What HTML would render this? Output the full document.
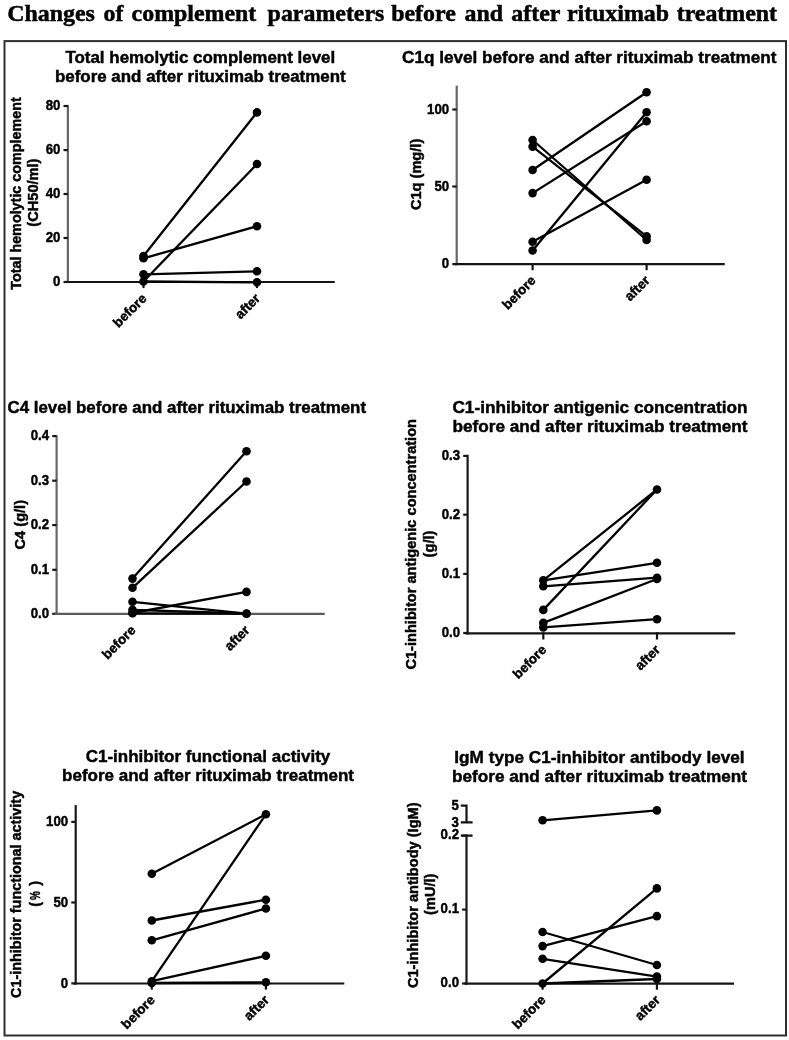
<!DOCTYPE html>
<html><head><meta charset="utf-8"><title>Changes of complement parameters</title><style>
html,body{margin:0;padding:0;background:#fff;}
svg{display:block;will-change:transform;}
text{font-family:"Liberation Sans",sans-serif;font-weight:bold;fill:#000;stroke:#000;stroke-width:0.45px;}
.mt{font-family:"Liberation Serif",serif;font-size:23.9px;stroke:#000;stroke-width:0.5px;}
.t{font-size:16.9px;}
.k{font-size:14.4px;}
.xk{font-size:13.4px;}
.yl{font-size:14.6px;}
.ax{stroke:#111;stroke-width:2.2;fill:none;stroke-linecap:square;}
.dl{stroke:#000;stroke-width:2.3;fill:none;}
circle{fill:#000;}
</style></head>
<body><svg width="789" height="1040" viewBox="0 0 789 1040">
<rect x="0" y="0" width="789" height="1040" fill="#fff"/>
<text y="20.8" class="mt"><tspan x="7.2">Changes</tspan><tspan x="103.5">of</tspan><tspan x="131.6">complement</tspan><tspan x="267.6">parameters</tspan><tspan x="391.2">before</tspan><tspan x="464.6">and</tspan><tspan x="511.3">after</tspan><tspan x="566.9">rituximab</tspan><tspan x="676.7">treatment</tspan></text>
<rect x="4.5" y="41.1" width="781.5" height="994.4" fill="none" stroke="#2e2e2e" stroke-width="2"/>
<g><text x="200.3" y="62.7" text-anchor="middle" class="t" style="font-size:16.95px">Total hemolytic complement level</text><text x="200.3" y="82" text-anchor="middle" class="t" style="font-size:16.95px">before and after rituximab treatment</text><path d="M67.9 106V282" class="ax" stroke="#666" style="stroke:#666"/><path d="M63.5 106H67.9" class="ax" style="stroke:#181818;stroke-linecap:butt"/><text x="0" y="0" text-anchor="end" transform="translate(60.4 109.7) scale(0.92 1)" class="k">80</text><path d="M63.5 150.1H67.9" class="ax" style="stroke:#181818;stroke-linecap:butt"/><text x="0" y="0" text-anchor="end" transform="translate(60.4 153.8) scale(0.92 1)" class="k">60</text><path d="M63.5 194H67.9" class="ax" style="stroke:#181818;stroke-linecap:butt"/><text x="0" y="0" text-anchor="end" transform="translate(60.4 197.7) scale(0.92 1)" class="k">40</text><path d="M63.5 238H67.9" class="ax" style="stroke:#181818;stroke-linecap:butt"/><text x="0" y="0" text-anchor="end" transform="translate(60.4 241.7) scale(0.92 1)" class="k">20</text><path d="M63.5 282H67.9" class="ax" style="stroke:#181818;stroke-linecap:butt"/><text x="0" y="0" text-anchor="end" transform="translate(60.4 285.7) scale(0.92 1)" class="k">0</text><path d="M66.9 282H333.6" class="ax" style="stroke:#141414"/><path d="M143.5 282V287" class="ax" style="stroke:#141414"/><text x="147.5" y="299.2" text-anchor="end" transform="rotate(-45 147.5 299.2)" class="xk">before</text><path d="M257 282V287" class="ax" style="stroke:#141414"/><text x="261" y="299.2" text-anchor="end" transform="rotate(-45 261 299.2)" class="xk">after</text><text x="20.8" y="193.5" text-anchor="middle" transform="rotate(-90 20.8 193.5)" class="yl" style="font-size:14.35px">Total hemolytic complement</text><text x="38.2" y="192.6" text-anchor="middle" transform="rotate(-90 38.2 192.6)" class="yl" style="font-size:14.6px">(CH50/ml)</text><path d="M143.5 256L257 112.4" class="dl"/><path d="M143.5 258.3L257 226.2" class="dl"/><path d="M143.5 281.5L257 164" class="dl"/><path d="M143.5 274.3L257 271.3" class="dl"/><path d="M143.5 281.5L257 282.3" class="dl"/><circle cx="143.5" cy="256" r="4.3"/><circle cx="143.5" cy="281.5" r="4.3"/><circle cx="143.5" cy="258.3" r="4.3"/><circle cx="143.5" cy="274.3" r="4.3"/><circle cx="257" cy="226.2" r="4.3"/><circle cx="257" cy="164" r="4.3"/><circle cx="257" cy="271.3" r="4.3"/><circle cx="257" cy="112.4" r="4.3"/><circle cx="257" cy="282.3" r="4.3"/></g>
<g><text x="589.2" y="62.8" text-anchor="middle" class="t" style="font-size:17.15px">C1q level before and after rituximab treatment</text><path d="M456.7 86.7V264.1" class="ax" stroke="#666" style="stroke:#666"/><path d="M452.3 109.5H456.7" class="ax" style="stroke:#181818;stroke-linecap:butt"/><text x="0" y="0" text-anchor="end" transform="translate(449.2 113.5) scale(0.92 1)" class="k">100</text><path d="M452.3 186.5H456.7" class="ax" style="stroke:#181818;stroke-linecap:butt"/><text x="0" y="0" text-anchor="end" transform="translate(449.2 190.5) scale(0.92 1)" class="k">50</text><path d="M452.3 264.1H456.7" class="ax" style="stroke:#181818;stroke-linecap:butt"/><text x="0" y="0" text-anchor="end" transform="translate(449.2 268.1) scale(0.92 1)" class="k">0</text><path d="M455.7 264.1H723.6" class="ax" style="stroke:#141414"/><path d="M532.6 264.1V269.1" class="ax" style="stroke:#141414"/><text x="536.6" y="281.3" text-anchor="end" transform="rotate(-45 536.6 281.3)" class="xk">before</text><path d="M646.6 264.1V269.1" class="ax" style="stroke:#141414"/><text x="650.6" y="281.3" text-anchor="end" transform="rotate(-45 650.6 281.3)" class="xk">after</text><text x="421.5" y="174.4" text-anchor="middle" transform="rotate(-90 421.5 174.4)" class="yl" style="font-size:14.6px">C1q (mg/l)</text><path d="M532.6 170L646.6 92.2" class="dl"/><path d="M532.6 193.1L646.6 121.3" class="dl"/><path d="M532.6 250.5L646.6 112.3" class="dl"/><path d="M532.6 241.8L646.6 179.8" class="dl"/><path d="M532.6 140L646.6 240" class="dl"/><path d="M532.6 146.6L646.6 236.4" class="dl"/><circle cx="532.6" cy="193.1" r="4.3"/><circle cx="532.6" cy="170" r="4.3"/><circle cx="532.6" cy="140" r="4.3"/><circle cx="532.6" cy="241.8" r="4.3"/><circle cx="532.6" cy="146.6" r="4.3"/><circle cx="532.6" cy="250.5" r="4.3"/><circle cx="646.6" cy="236.4" r="4.3"/><circle cx="646.6" cy="112.3" r="4.3"/><circle cx="646.6" cy="240" r="4.3"/><circle cx="646.6" cy="179.8" r="4.3"/><circle cx="646.6" cy="121.3" r="4.3"/><circle cx="646.6" cy="92.2" r="4.3"/></g>
<g><text x="186.8" y="412.8" text-anchor="middle" class="t" style="font-size:16.9px">C4 level before and after rituximab treatment</text><path d="M56.6 436.3V613.8" class="ax" stroke="#666" style="stroke:#666"/><path d="M52.2 436.1H56.6" class="ax" style="stroke:#181818;stroke-linecap:butt"/><text x="0" y="0" text-anchor="end" transform="translate(49.1 440.2) scale(0.92 1)" class="k">0.4</text><path d="M52.2 480.7H56.6" class="ax" style="stroke:#181818;stroke-linecap:butt"/><text x="0" y="0" text-anchor="end" transform="translate(49.1 484.8) scale(0.92 1)" class="k">0.3</text><path d="M52.2 525.1H56.6" class="ax" style="stroke:#181818;stroke-linecap:butt"/><text x="0" y="0" text-anchor="end" transform="translate(49.1 529.2) scale(0.92 1)" class="k">0.2</text><path d="M52.2 569.8H56.6" class="ax" style="stroke:#181818;stroke-linecap:butt"/><text x="0" y="0" text-anchor="end" transform="translate(49.1 573.9) scale(0.92 1)" class="k">0.1</text><path d="M52.2 613.8H56.6" class="ax" style="stroke:#181818;stroke-linecap:butt"/><text x="0" y="0" text-anchor="end" transform="translate(49.1 617.9) scale(0.92 1)" class="k">0.0</text><path d="M55.6 613.8H323.6" class="ax" style="stroke:#5a5a5a"/><text x="136.5" y="631" text-anchor="end" transform="rotate(-45 136.5 631)" class="xk">before</text><text x="250.5" y="631" text-anchor="end" transform="rotate(-45 250.5 631)" class="xk">after</text><text x="25.4" y="524.7" text-anchor="middle" transform="rotate(-90 25.4 524.7)" class="yl" style="font-size:14.6px">C4 (g/l)</text><path d="M132.5 578.6L246.5 451.2" class="dl"/><path d="M132.5 587.8L246.5 481.5" class="dl"/><path d="M132.5 601.8L246.5 613.7" class="dl"/><path d="M132.5 613L246.5 591.9" class="dl"/><path d="M132.5 609.8L246.5 613.5" class="dl"/><path d="M132.5 613.3L246.5 613.7" class="dl"/><circle cx="132.5" cy="609.8" r="4.3"/><circle cx="132.5" cy="578.6" r="4.3"/><circle cx="132.5" cy="613" r="4.3"/><circle cx="132.5" cy="613.3" r="4.3"/><circle cx="132.5" cy="587.8" r="4.3"/><circle cx="132.5" cy="601.8" r="4.3"/><circle cx="246.5" cy="481.5" r="4.3"/><circle cx="246.5" cy="451.2" r="4.3"/><circle cx="246.5" cy="613.5" r="4.3"/><circle cx="246.5" cy="613.7" r="4.3"/><circle cx="246.5" cy="591.9" r="4.3"/></g>
<g><text x="600" y="412.8" text-anchor="middle" class="t" style="font-size:17.2px">C1-inhibitor antigenic concentration</text><text x="600" y="431.8" text-anchor="middle" class="t" style="font-size:17.2px">before and after rituximab treatment</text><path d="M467.6 455.9V633.4" class="ax" stroke="#181818" style="stroke:#181818"/><path d="M463.2 455.9H467.6" class="ax" style="stroke:#181818;stroke-linecap:butt"/><text x="0" y="0" text-anchor="end" transform="translate(460.1 460) scale(0.92 1)" class="k">0.3</text><path d="M463.2 514.7H467.6" class="ax" style="stroke:#181818;stroke-linecap:butt"/><text x="0" y="0" text-anchor="end" transform="translate(460.1 518.8) scale(0.92 1)" class="k">0.2</text><path d="M463.2 573.9H467.6" class="ax" style="stroke:#181818;stroke-linecap:butt"/><text x="0" y="0" text-anchor="end" transform="translate(460.1 578) scale(0.92 1)" class="k">0.1</text><path d="M463.2 633H467.6" class="ax" style="stroke:#181818;stroke-linecap:butt"/><text x="0" y="0" text-anchor="end" transform="translate(460.1 637.1) scale(0.92 1)" class="k">0.0</text><path d="M466.6 633.4H734.2" class="ax" style="stroke:#141414"/><path d="M543.3 633.4V638.4" class="ax" style="stroke:#141414"/><text x="547.3" y="650.6" text-anchor="end" transform="rotate(-45 547.3 650.6)" class="xk">before</text><path d="M657 633.4V638.4" class="ax" style="stroke:#141414"/><text x="661" y="650.6" text-anchor="end" transform="rotate(-45 661 650.6)" class="xk">after</text><text x="415.8" y="544.25" text-anchor="middle" transform="rotate(-90 415.8 544.25)" class="yl" style="font-size:14.6px">C1-inhibitor antigenic concentration</text><text x="433.5" y="544" text-anchor="middle" transform="rotate(-90 433.5 544)" class="yl" style="font-size:14.6px">(g/l)</text><path d="M543.3 580.3L657 489.5" class="dl"/><path d="M543.3 580.3L657 562.8" class="dl"/><path d="M543.3 586.3L657 577.7" class="dl"/><path d="M543.3 609.9L657 489.5" class="dl"/><path d="M543.3 622.9L657 579" class="dl"/><path d="M543.3 627.4L657 619.2" class="dl"/><circle cx="543.3" cy="609.9" r="4.3"/><circle cx="543.3" cy="580.3" r="4.3"/><circle cx="543.3" cy="586.3" r="4.3"/><circle cx="543.3" cy="622.9" r="4.3"/><circle cx="543.3" cy="627.4" r="4.3"/><circle cx="657" cy="577.7" r="4.3"/><circle cx="657" cy="579" r="4.3"/><circle cx="657" cy="489.5" r="4.3"/><circle cx="657" cy="619.2" r="4.3"/><circle cx="657" cy="562.8" r="4.3"/></g>
<g><text x="208" y="762.2" text-anchor="middle" class="t" style="font-size:17.0px">C1-inhibitor functional activity</text><text x="208" y="781.3" text-anchor="middle" class="t" style="font-size:17.0px">before and after rituximab treatment</text><path d="M75.7 806.2V983.5" class="ax" stroke="#181818" style="stroke:#181818"/><path d="M71.3 821.9H75.7" class="ax" style="stroke:#181818;stroke-linecap:butt"/><text x="0" y="0" text-anchor="end" transform="translate(68.2 826.2) scale(0.92 1)" class="k">100</text><path d="M71.3 902.5H75.7" class="ax" style="stroke:#181818;stroke-linecap:butt"/><text x="0" y="0" text-anchor="end" transform="translate(68.2 906.8) scale(0.92 1)" class="k">50</text><path d="M71.3 983.4H75.7" class="ax" style="stroke:#181818;stroke-linecap:butt"/><text x="0" y="0" text-anchor="end" transform="translate(68.2 987.7) scale(0.92 1)" class="k">0</text><path d="M74.7 983.5H343.2" class="ax" style="stroke:#141414"/><path d="M151.8 983.5V988.5" class="ax" style="stroke:#141414"/><text x="155.8" y="1000.7" text-anchor="end" transform="rotate(-45 155.8 1000.7)" class="xk">before</text><path d="M265.9 983.5V988.5" class="ax" style="stroke:#141414"/><text x="269.9" y="1000.7" text-anchor="end" transform="rotate(-45 269.9 1000.7)" class="xk">after</text><text x="21.2" y="894.4" text-anchor="middle" transform="rotate(-90 21.2 894.4)" class="yl" style="font-size:14.4px">C1-inhibitor functional activity</text><text x="39.6" y="904.2" text-anchor="middle" transform="rotate(-90 39.6 904.2)" class="yl">(</text><text x="39.6" y="883.3" text-anchor="middle" transform="rotate(-90 39.6 883.3)" class="yl">)</text><text x="0" y="0" text-anchor="middle" transform="translate(39.6 895.6) rotate(-90) scale(0.68 1)" class="yl">%</text><path d="M151.8 873.8L265.9 814.3" class="dl"/><path d="M151.8 920.5L265.9 899.7" class="dl"/><path d="M151.8 940.3L265.9 908.5" class="dl"/><path d="M151.8 981.2L265.9 814.3" class="dl"/><path d="M151.8 981.2L265.9 955.8" class="dl"/><path d="M151.8 983L265.9 982.3" class="dl"/><circle cx="151.8" cy="873.8" r="4.3"/><circle cx="151.8" cy="940.3" r="4.3"/><circle cx="151.8" cy="981.2" r="4.3"/><circle cx="151.8" cy="983" r="4.3"/><circle cx="151.8" cy="920.5" r="4.3"/><circle cx="265.9" cy="899.7" r="4.3"/><circle cx="265.9" cy="908.5" r="4.3"/><circle cx="265.9" cy="814.3" r="4.3"/><circle cx="265.9" cy="982.3" r="4.3"/><circle cx="265.9" cy="955.8" r="4.3"/></g>
<g><text x="599.5" y="762.8" text-anchor="middle" class="t" style="font-size:17.2px">IgM type C1-inhibitor antibody level</text><text x="599.5" y="781.8" text-anchor="middle" class="t" style="font-size:17.2px">before and after rituximab treatment</text><path d="M466.5 835.6V983.6" class="ax" stroke="#181818" style="stroke:#181818"/><path d="M466.5 805.6V822.3M461.9 805.6H466.5M461.9 822.3H471.5M461.9 835.6H471.5" class="ax"/><text x="0" y="0" text-anchor="end" transform="translate(459 810.4) scale(0.92 1)" class="k">5</text><text x="0" y="0" text-anchor="end" transform="translate(459 826.6) scale(0.92 1)" class="k">3</text><path d="M462.1 835.6H466.5" class="ax" style="stroke:#181818;stroke-linecap:butt"/><text x="0" y="0" text-anchor="end" transform="translate(459 839.3) scale(0.92 1)" class="k">0.2</text><path d="M462.1 909.6H466.5" class="ax" style="stroke:#181818;stroke-linecap:butt"/><text x="0" y="0" text-anchor="end" transform="translate(459 913.3) scale(0.92 1)" class="k">0.1</text><path d="M462.1 983.5H466.5" class="ax" style="stroke:#181818;stroke-linecap:butt"/><text x="0" y="0" text-anchor="end" transform="translate(459 987.2) scale(0.92 1)" class="k">0.0</text><path d="M465.5 983.6H733" class="ax" style="stroke:#141414"/><path d="M542.6 983.6V988.6" class="ax" style="stroke:#141414"/><text x="546.6" y="1000.8" text-anchor="end" transform="rotate(-45 546.6 1000.8)" class="xk">before</text><path d="M656.9 983.6V988.6" class="ax" style="stroke:#141414"/><text x="660.9" y="1000.8" text-anchor="end" transform="rotate(-45 660.9 1000.8)" class="xk">after</text><text x="418.3" y="895.2" text-anchor="middle" transform="rotate(-90 418.3 895.2)" class="yl" style="font-size:14.6px">C1-inhibitor antibody (IgM)</text><text x="434.6" y="894.2" text-anchor="middle" transform="rotate(-90 434.6 894.2)" class="yl" style="font-size:14.6px">(mU/l)</text><path d="M542.6 820.3L656.9 810.4" class="dl"/><path d="M542.6 932L656.9 965" class="dl"/><path d="M542.6 946.1L656.9 916.1" class="dl"/><path d="M542.6 958.8L656.9 976.6" class="dl"/><path d="M542.6 983.5L656.9 888.4" class="dl"/><path d="M542.6 983.5L656.9 979" class="dl"/><circle cx="542.6" cy="932" r="4.3"/><circle cx="542.6" cy="946.1" r="4.3"/><circle cx="542.6" cy="820.3" r="4.3"/><circle cx="542.6" cy="983.5" r="4.3"/><circle cx="542.6" cy="958.8" r="4.3"/><circle cx="656.9" cy="965" r="4.3"/><circle cx="656.9" cy="810.4" r="4.3"/><circle cx="656.9" cy="976.6" r="4.3"/><circle cx="656.9" cy="979" r="4.3"/><circle cx="656.9" cy="916.1" r="4.3"/><circle cx="656.9" cy="888.4" r="4.3"/></g>
</svg></body></html>
